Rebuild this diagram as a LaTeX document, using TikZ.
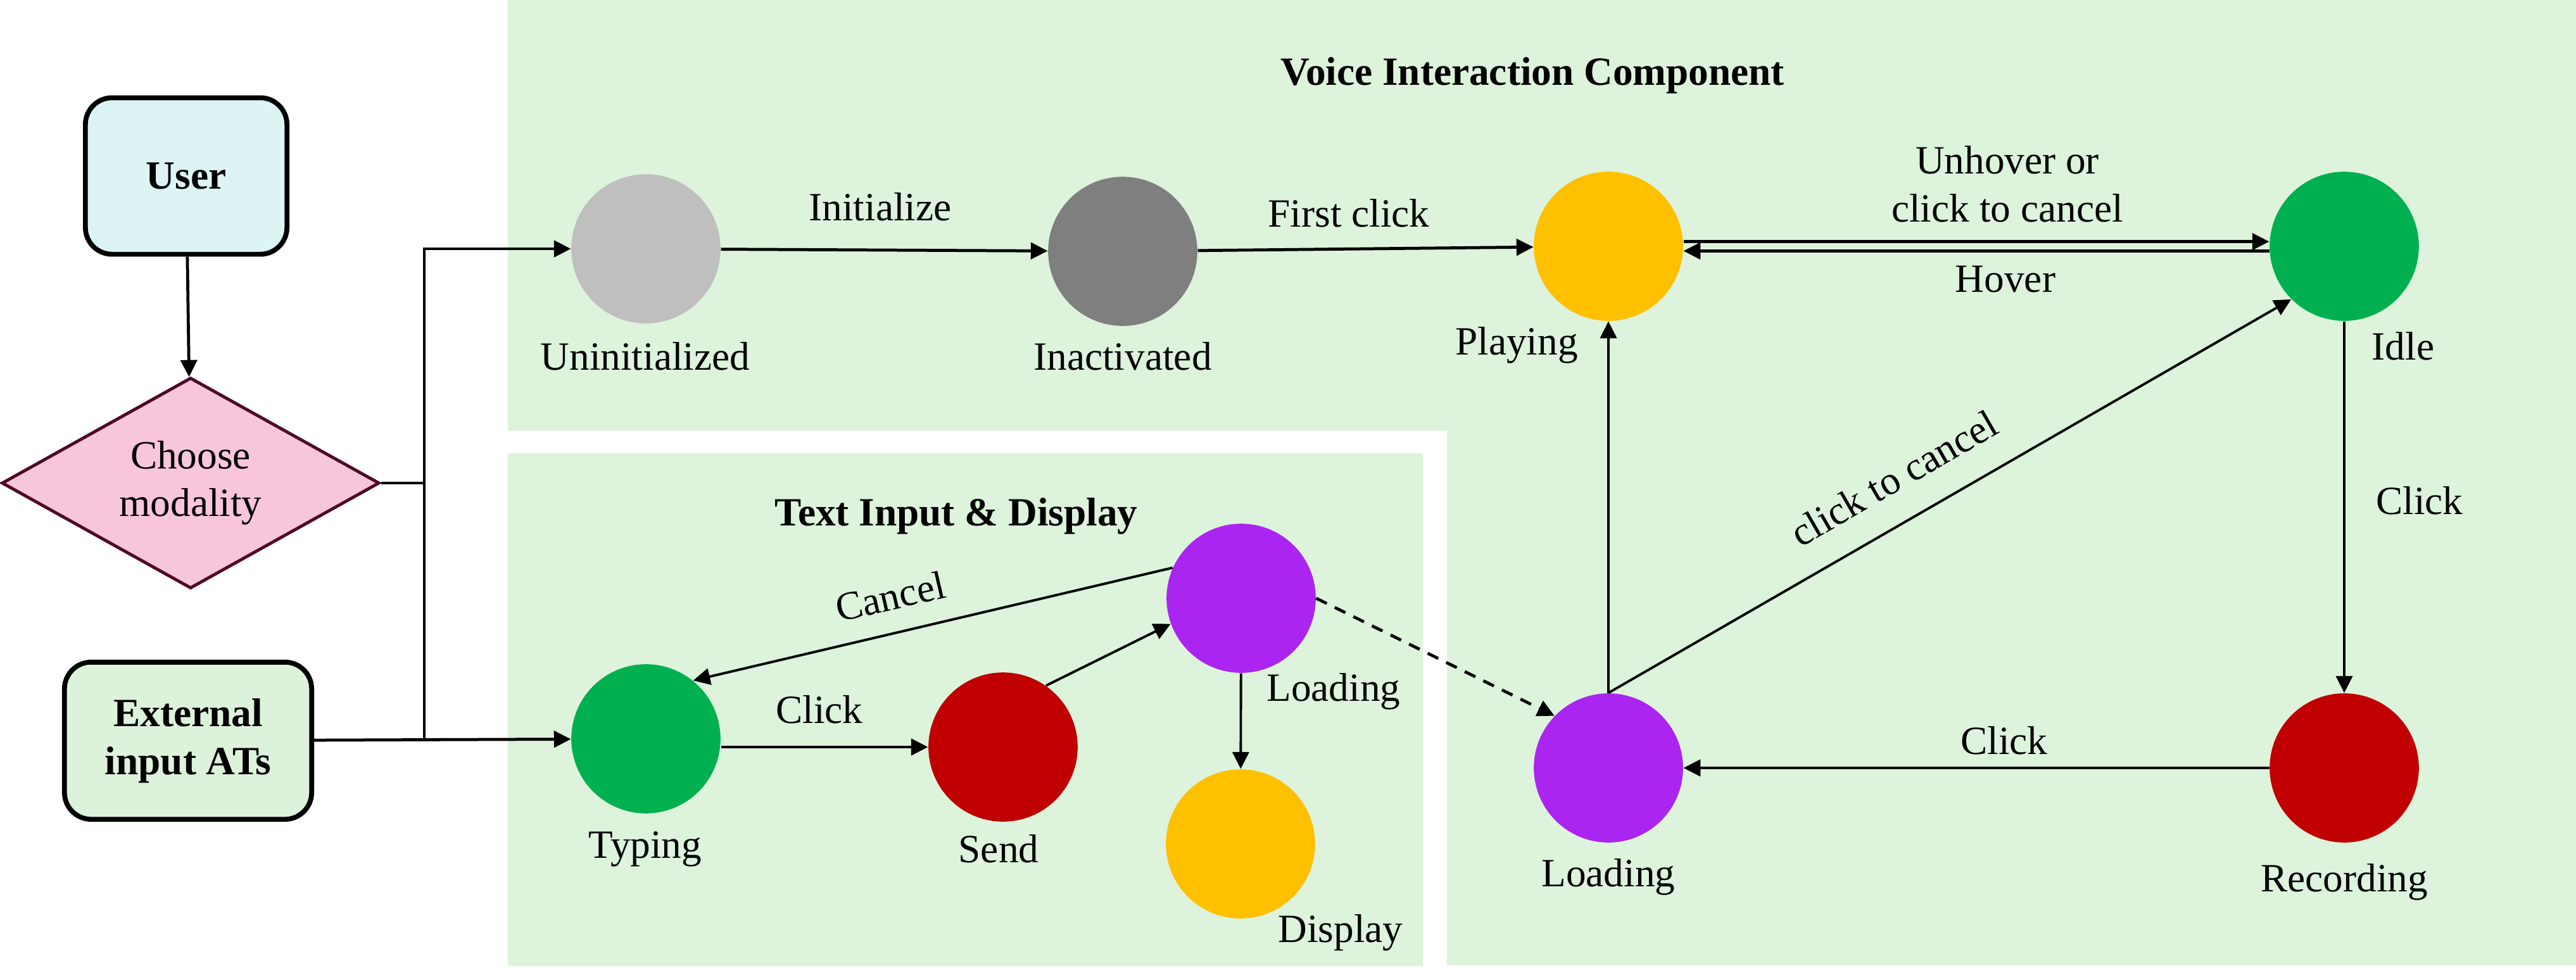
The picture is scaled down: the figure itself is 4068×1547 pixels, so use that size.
\documentclass[tikz,border=0pt]{standalone}
\usepackage{fontspec}
\setmainfont{Liberation Serif}
\usetikzlibrary{arrows.meta,shapes.geometric}

\definecolor{panelgreen}{HTML}{DDF3DC}
\definecolor{usercyan}{HTML}{DDF4F5}
\definecolor{extgreen}{HTML}{DDF2DA}
\definecolor{choosepink}{HTML}{F8C6DC}
\definecolor{chooseedge}{HTML}{4D0A26}
\definecolor{uninitgray}{HTML}{BFBFBF}
\definecolor{inactgray}{HTML}{7F7F7F}
\definecolor{playyellow}{HTML}{FFC000}
\definecolor{idlegreen}{HTML}{00B050}
\definecolor{loadpurple}{HTML}{AA25F0}
\definecolor{recred}{HTML}{C00000}

\begin{document}
\begin{tikzpicture}[x=0.01cm,y=-0.01cm,font=\fontsize{18}{21.5}\selectfont,
    state/.style={circle,minimum size=67pt,inner sep=0pt},
    arr/.style={-{Triangle[length=7.6pt,width=7.4pt]},line width=1.35pt},
    thinarr/.style={-{Triangle[length=7.6pt,width=7.4pt]},line width=1.1pt},
    box/.style={draw,rounded corners=12pt,line width=2.2pt,align=center,font=\fontsize{18}{21.5}\selectfont\bfseries}]
            \useasboundingbox (0,0) rectangle (4068,1547);
            \fill[panelgreen] (802,0) -- (4068,0) -- (4068,1525) -- (2285,1525) -- (2285,680) -- (802,680) -- cycle;
            \fill[panelgreen] (802,716) rectangle (2247,1526);

            \node[box,fill=usercyan,minimum width=90.5pt,minimum height=70.3pt] (user) at (294,278) {User};
            \node[diamond,aspect=1.79,minimum width=169.6pt,minimum height=94.7pt,inner sep=0pt,draw=chooseedge,fill=choosepink,line width=1.4pt,align=center] (choose) at (301,763) {Choose\\modality};
            \node[box,fill=extgreen,minimum width=111pt,minimum height=70.6pt] (ext) at (297,1170) {External\\input ATs};

            \node[font=\fontsize{18}{21.5}\selectfont\bfseries] (voicetitle) at (2420,119) {Voice Interaction Component};
            \node[font=\fontsize{18}{21.5}\selectfont\bfseries] (texttitle) at (1510,815) {Text Input \& Display};

            \node[state,fill=uninitgray] (uninit) at (1020,393) {};
            \node[state,fill=inactgray] (inact) at (1773,397) {};
            \node[state,fill=playyellow] (play) at (2540,389) {};
            \node[state,fill=idlegreen] (idle) at (3702,389) {};
            \node[state,fill=loadpurple] (loadv) at (2540,1213) {};
            \node[state,fill=recred] (rec) at (3702,1213) {};
            \node[state,fill=idlegreen] (typing) at (1020,1167) {};
            \node[state,fill=recred] (send) at (1584,1180) {};
            \node[state,fill=loadpurple] (loadt) at (1960,945) {};
            \node[state,fill=playyellow] (disp) at (1959,1333) {};

            \node (uninitlbl) at (1019,563) {Uninitialized};
            \node (inactlbl) at (1773,563) {Inactivated};
            \node (playlbl) at (2395,545) {Playing};
            \node (idlelbl) at (3795,547) {Idle};
            \node (loadvlbl) at (2540,1385) {Loading};
            \node (reclbl) at (3702,1393) {Recording};
            \node (typinglbl) at (1019,1341) {Typing};
            \node (sendlbl) at (1577,1341) {Send};
            \node (loadtlbl) at (2106,1092) {Loading};
            \node (displbl) at (2117,1473) {Display};

            \node (initlbl) at (1390,327) {Initialize};
            \node (firstlbl) at (2130,337) {First click};
            \node[align=center] (unhoverlbl) at (3170,291) {Unhover or\\click to cancel};
            \node (hoverlbl) at (3167,441) {Hover};
            \node (idleclicklbl) at (3821,791) {Click};
            \node[rotate=30] (cancelvlbl) at (2991,755) {click to cancel};
            \node (recclicklbl) at (3165,1170) {Click};
            \node[rotate=13] (canceltlbl) at (1406,942) {Cancel};
            \node (typeclicklbl) at (1294,1121) {Click};

            \draw[arr] (user) -- (choose);
            \draw[line width=1.35pt] (choose.east) -- (670,763) coordinate (fork);
            \draw[arr] (fork) |- (uninit);
            \draw[line width=1.35pt] (fork) -- (fork |- ext.east);
            \draw[arr] (ext) -- (typing);

            \draw[arr] (uninit) -- (inact);
            \draw[arr] (inact) -- (play);
            \draw[arr] ([yshift=2.1pt]play.east) -- ([yshift=2.1pt]idle.west);
            \draw[arr] ([yshift=-2.1pt]idle.west) -- ([yshift=-2.1pt]play.east);
            \draw[thinarr] (idle) -- (rec);
            \draw[arr] (rec) -- (loadv);
            \draw[thinarr] (loadv) -- (play);
            \draw[thinarr] (loadv.north) -- (idle.225);

            \draw[arr] (typing.east |- send.west) -- (send.west);
            \draw[thinarr] (send.55) -- (loadt.200);
            \draw[thinarr] (loadt.156) -- (typing.51);
            \draw[thinarr] (loadt) -- (disp);
            \draw[arr,dash pattern=on 5.3pt off 4pt] (loadt.east) -- (loadv.136);
        \end{tikzpicture}
\end{document}
